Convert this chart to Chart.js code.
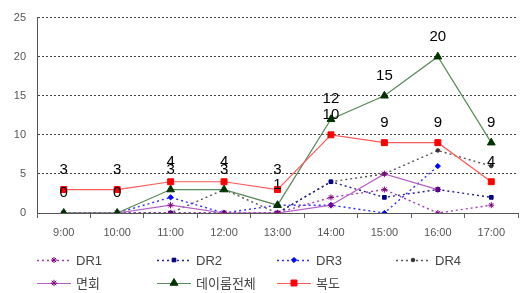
<!DOCTYPE html>
<html>
<head>
<meta charset="utf-8">
<script src="https://cdn.jsdelivr.net/npm/chart.js@4/dist/chart.umd.min.js"></script>
<style>
  html, body { margin: 0; padding: 0; background: #fff; }
  #wrap { width: 524px; height: 293px; position: relative; }
</style>
</head>
<body>
<div id="wrap"><canvas id="chart" width="524" height="293"></canvas></div>
<script>
// data
const hours   = ['9:00','10:00','11:00','12:00','13:00','14:00','15:00','16:00','17:00'];
const dr1     = [0, 0, 0, 0, 0, 2, 3, 0, 1];
const dr2     = [0, 0, 0, 0, 0, 4, 2, 3, 2];
const dr3     = [0, 0, 2, 0, 1, 1, 0, 6, null];
const dr4     = [0, 0, 0, 3, 0, 4, 5, 8, 6];
const visits  = [0, 0, 1, 0, 0, 1, 5, 3, null];
const dayroom = [0, 0, 3, 3, 1, 12, 15, 20, 9];
const hallway = [3, 3, 4, 4, 3, 10, 9, 9, 4];
const yTicks  = [0, 5, 10, 15, 20, 25];

const FONT = '"Liberation Sans", "Noto Sans CJK KR", sans-serif';

function series(label, data, line, marker, style, radius, dashed, extra) {
  return Object.assign({
    label, data,
    borderColor: line,
    backgroundColor: marker,
    pointBackgroundColor: marker,
    pointBorderColor: marker,
    pointStyle: style,
    pointRadius: radius,
    pointBorderWidth: 1,
    borderWidth: dashed ? 1.4 : 1.2,
    borderDash: dashed ? [2, 3] : [],
    tension: 0,
    spanGaps: false
  }, extra || {});
}

const datasets = [
  series('DR1', dr1, '#a040b0', '#800080', 'star', 3, true, { order: 3 }),
  series('DR2', dr2, '#202090', '#000080', 'rect', 2.6, true, { order: 3 }),
  series('DR3', dr3, '#3030ff', '#0000ff', 'rectRot', 2.6, true, { order: 3 }),
  series('DR4', dr4, '#555555', '#333333', 'circle', 1.8, true, { order: 3 }),
  series('면회', visits, '#b35fc4', '#800080', 'star', 3.2, false, { order: 2 }),
  series('데이룸전체', dayroom, '#5a8a5a', '#003300', 'triangle', 4.5, false, { order: 1, showValues: true }),
  series('복도', hallway, '#ff5a5a', '#ff0000', 'rect', 4.2, false, { order: 0, showValues: true })
];

// value labels above the 데이룸전체 / 복도 points
const valueLabels = {
  id: 'valueLabels',
  afterDatasetsDraw(chart) {
    const ctx = chart.ctx;
    ctx.save();
    ctx.font = '15px ' + FONT;
    ctx.fillStyle = '#000';
    ctx.textAlign = 'center';
    ctx.textBaseline = 'middle';
    chart.data.datasets.forEach((ds, i) => {
      if (!ds.showValues) return;
      chart.getDatasetMeta(i).data.forEach((pt, j) => {
        if (ds.data[j] == null) return;
        ctx.fillText(String(ds.data[j]), pt.x, pt.y - 20);
      });
    });
    ctx.restore();
  }
};

// legend with line samples, 4 columns x 2 rows under the axis
const sampleLegend = {
  id: 'sampleLegend',
  afterDraw(chart) {
    const ctx = chart.ctx;
    const cols = [37, 157, 277, 396];
    const rows = [260, 283];
    ctx.save();
    chart.data.datasets.forEach((ds, i) => {
      const x = cols[i < 4 ? i : i - 4];
      const y = rows[i < 4 ? 0 : 1];
      ctx.strokeStyle = ds.borderColor;
      ctx.lineWidth = ds.borderWidth;
      ctx.setLineDash(ds.borderDash);
      ctx.beginPath();
      ctx.moveTo(x, y + 0.5);
      ctx.lineTo(x + 34, y + 0.5);
      ctx.stroke();
      ctx.setLineDash([]);
      ctx.fillStyle = ds.pointBackgroundColor;
      ctx.strokeStyle = ds.pointBorderColor;
      ctx.lineWidth = 1;
      Chart.helpers.drawPoint(ctx, { pointStyle: ds.pointStyle, radius: ds.pointRadius, borderWidth: 1, rotation: 0 }, x + 17, y);
      ctx.font = '13px ' + FONT;
      ctx.fillStyle = '#444';
      ctx.textBaseline = 'middle';
      ctx.textAlign = 'left';
      ctx.fillText(ds.label, x + 39, y + 1);
    });
    ctx.restore();
  }
};

new Chart(document.getElementById('chart'), {
  type: 'line',
  data: { labels: hours, datasets },
  plugins: [valueLabels, sampleLegend],
  options: {
    responsive: false,
    animation: false,
    devicePixelRatio: 1,
    layout: { padding: { top: 16, right: 6, left: 0, bottom: 0 } },
    plugins: { legend: { display: false }, tooltip: { enabled: false } },
    scales: {
      x: {
        offset: true,
        afterFit: s => { s.height = 80; },
        grid: { offset: true, drawOnChartArea: false, drawTicks: true, tickLength: 5, color: '#666' },
        border: { color: '#555', width: 1 },
        ticks: { color: '#555', font: { size: 11, family: FONT }, padding: 8, maxRotation: 0, autoSkip: false }
      },
      y: {
        min: 0, max: 25,
        afterFit: s => { s.width = 37; },
        afterBuildTicks: s => { s.ticks = yTicks.map(v => ({ value: v })); },
        grid: {
          drawTicks: false,
          color: ctx => ctx.tick && ctx.tick.value === 0 ? 'rgba(0,0,0,0)' : '#444',
          lineWidth: 1
        },
        border: { color: '#555', width: 1, dash: [2, 2] },
        ticks: { color: '#555', font: { size: 11, family: FONT }, padding: 11 }
      }
    }
  }
});
</script>
</body>
</html>
